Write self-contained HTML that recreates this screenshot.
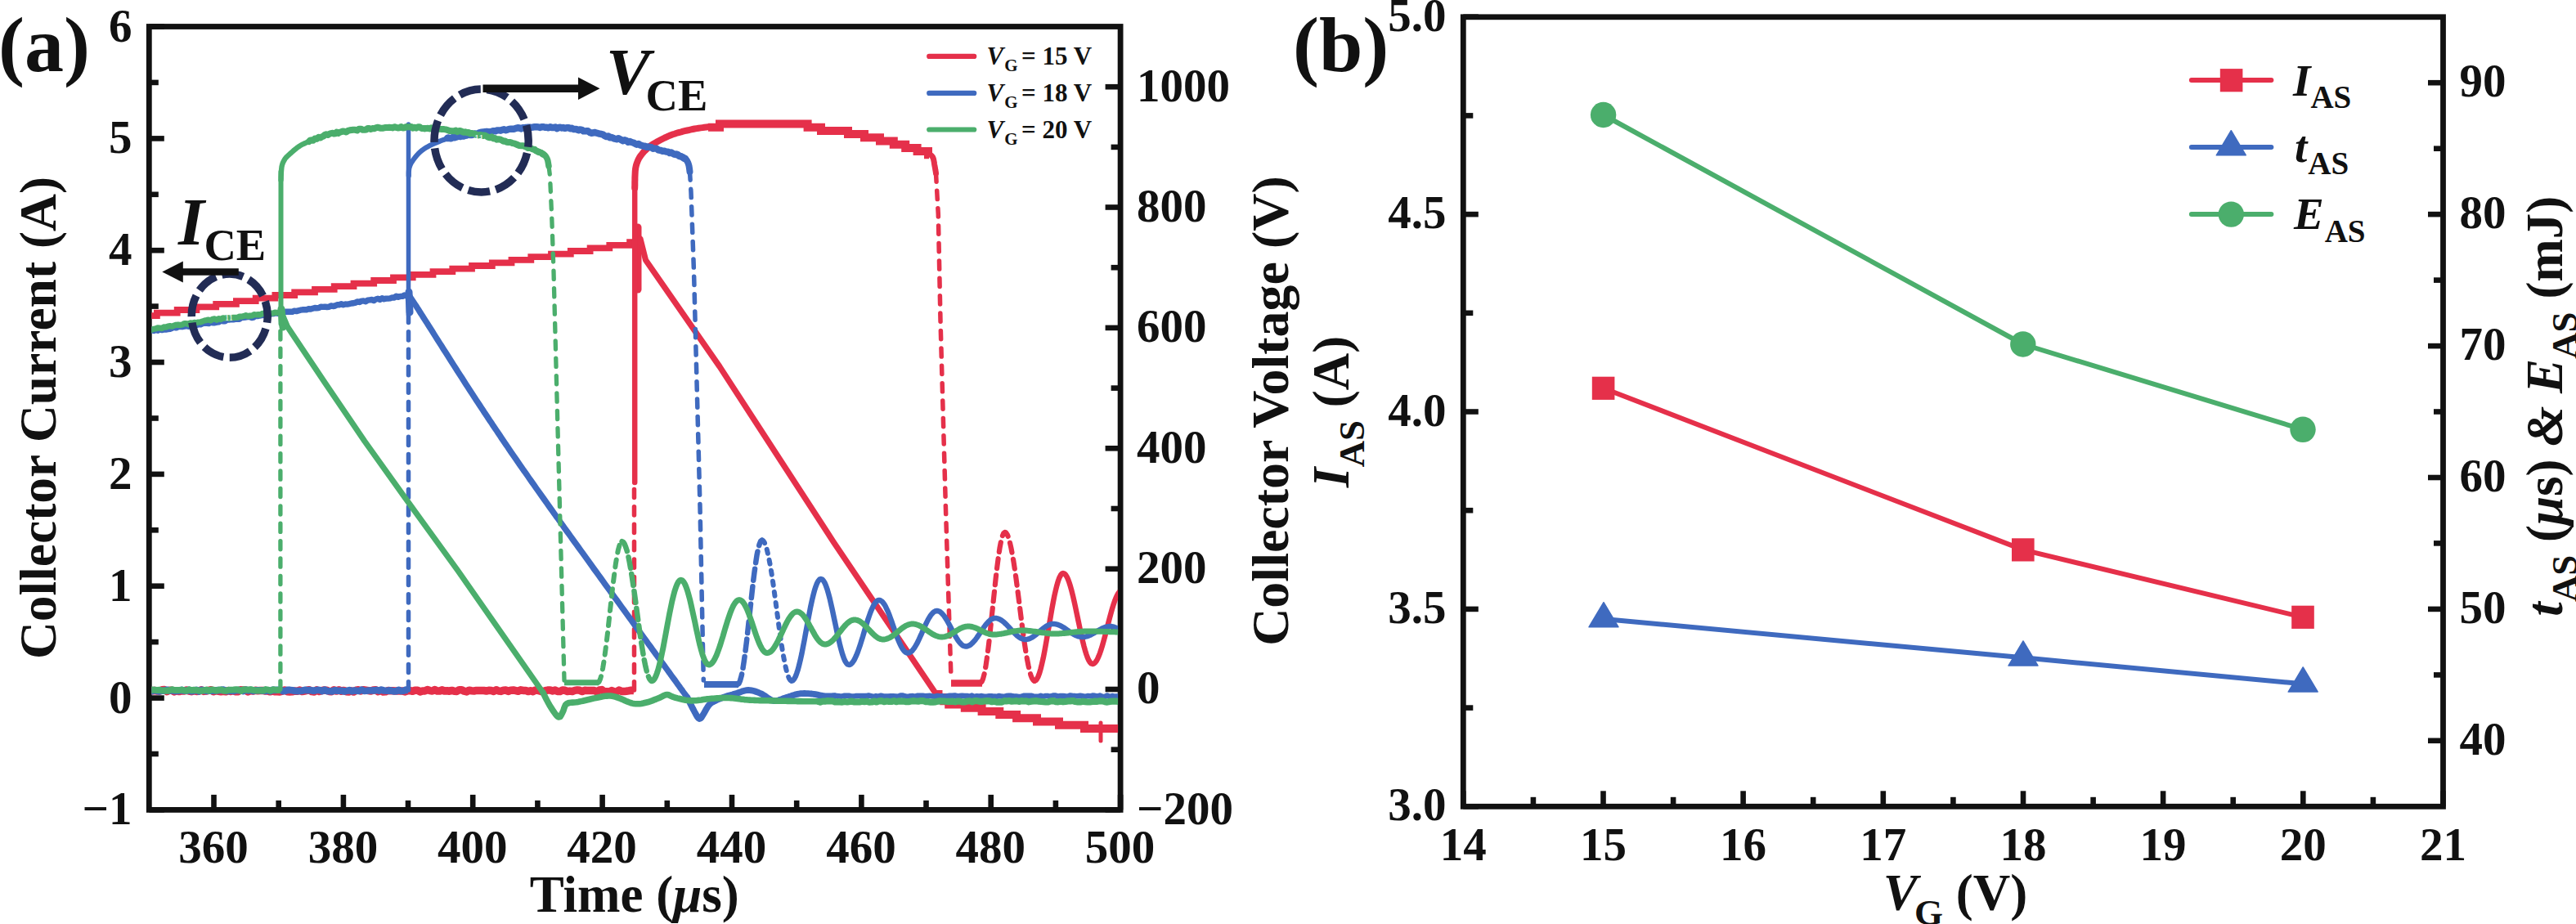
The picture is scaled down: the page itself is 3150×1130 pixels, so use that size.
<!DOCTYPE html>
<html><head><meta charset="utf-8"><title>Figure</title>
<style>
html,body{margin:0;padding:0;background:#fff;}
body{width:3150px;height:1130px;overflow:hidden;}
svg{display:block;}
text{font-family:"Liberation Serif",serif;font-weight:bold;fill:#111;}
</style></head><body>
<svg width="3150" height="1130" viewBox="0 0 3150 1130">
<rect width="3150" height="1130" fill="#ffffff"/>
<rect x="182.3" y="32.5" width="1187.8" height="957.9" fill="none" stroke="#111111" stroke-width="6.8"/>
<line x1="182.3" y1="990.4" x2="200.8" y2="990.4" stroke="#111111" stroke-width="6.6" stroke-linecap="butt"/>
<text x="161.5" y="1008.4" font-size="57" text-anchor="end" >−1</text>
<line x1="182.3" y1="853.6" x2="200.8" y2="853.6" stroke="#111111" stroke-width="6.6" stroke-linecap="butt"/>
<text x="161.5" y="871.6" font-size="57" text-anchor="end" >0</text>
<line x1="182.3" y1="716.7" x2="200.8" y2="716.7" stroke="#111111" stroke-width="6.6" stroke-linecap="butt"/>
<text x="161.5" y="734.7" font-size="57" text-anchor="end" >1</text>
<line x1="182.3" y1="579.9" x2="200.8" y2="579.9" stroke="#111111" stroke-width="6.6" stroke-linecap="butt"/>
<text x="161.5" y="597.9" font-size="57" text-anchor="end" >2</text>
<line x1="182.3" y1="443.0" x2="200.8" y2="443.0" stroke="#111111" stroke-width="6.6" stroke-linecap="butt"/>
<text x="161.5" y="461.0" font-size="57" text-anchor="end" >3</text>
<line x1="182.3" y1="306.2" x2="200.8" y2="306.2" stroke="#111111" stroke-width="6.6" stroke-linecap="butt"/>
<text x="161.5" y="324.2" font-size="57" text-anchor="end" >4</text>
<line x1="182.3" y1="169.4" x2="200.8" y2="169.4" stroke="#111111" stroke-width="6.6" stroke-linecap="butt"/>
<text x="161.5" y="187.4" font-size="57" text-anchor="end" >5</text>
<line x1="182.3" y1="32.5" x2="200.8" y2="32.5" stroke="#111111" stroke-width="6.6" stroke-linecap="butt"/>
<text x="161.5" y="50.5" font-size="57" text-anchor="end" >6</text>
<line x1="182.3" y1="922.0" x2="193.8" y2="922.0" stroke="#111111" stroke-width="6.6" stroke-linecap="butt"/>
<line x1="182.3" y1="785.1" x2="193.8" y2="785.1" stroke="#111111" stroke-width="6.6" stroke-linecap="butt"/>
<line x1="182.3" y1="648.3" x2="193.8" y2="648.3" stroke="#111111" stroke-width="6.6" stroke-linecap="butt"/>
<line x1="182.3" y1="511.5" x2="193.8" y2="511.5" stroke="#111111" stroke-width="6.6" stroke-linecap="butt"/>
<line x1="182.3" y1="374.6" x2="193.8" y2="374.6" stroke="#111111" stroke-width="6.6" stroke-linecap="butt"/>
<line x1="182.3" y1="237.8" x2="193.8" y2="237.8" stroke="#111111" stroke-width="6.6" stroke-linecap="butt"/>
<line x1="182.3" y1="100.9" x2="193.8" y2="100.9" stroke="#111111" stroke-width="6.6" stroke-linecap="butt"/>
<line x1="261.5" y1="990.4" x2="261.5" y2="971.9" stroke="#111111" stroke-width="6.6" stroke-linecap="butt"/>
<text x="261.0" y="1055.0" font-size="57" text-anchor="middle" >360</text>
<line x1="419.9" y1="990.4" x2="419.9" y2="971.9" stroke="#111111" stroke-width="6.6" stroke-linecap="butt"/>
<text x="419.4" y="1055.0" font-size="57" text-anchor="middle" >380</text>
<line x1="578.2" y1="990.4" x2="578.2" y2="971.9" stroke="#111111" stroke-width="6.6" stroke-linecap="butt"/>
<text x="577.7" y="1055.0" font-size="57" text-anchor="middle" >400</text>
<line x1="736.6" y1="990.4" x2="736.6" y2="971.9" stroke="#111111" stroke-width="6.6" stroke-linecap="butt"/>
<text x="736.1" y="1055.0" font-size="57" text-anchor="middle" >420</text>
<line x1="895.0" y1="990.4" x2="895.0" y2="971.9" stroke="#111111" stroke-width="6.6" stroke-linecap="butt"/>
<text x="894.5" y="1055.0" font-size="57" text-anchor="middle" >440</text>
<line x1="1053.4" y1="990.4" x2="1053.4" y2="971.9" stroke="#111111" stroke-width="6.6" stroke-linecap="butt"/>
<text x="1052.9" y="1055.0" font-size="57" text-anchor="middle" >460</text>
<line x1="1211.7" y1="990.4" x2="1211.7" y2="971.9" stroke="#111111" stroke-width="6.6" stroke-linecap="butt"/>
<text x="1211.2" y="1055.0" font-size="57" text-anchor="middle" >480</text>
<line x1="1370.1" y1="990.4" x2="1370.1" y2="971.9" stroke="#111111" stroke-width="6.6" stroke-linecap="butt"/>
<text x="1369.6" y="1055.0" font-size="57" text-anchor="middle" >500</text>
<line x1="340.7" y1="990.4" x2="340.7" y2="978.9" stroke="#111111" stroke-width="6.6" stroke-linecap="butt"/>
<line x1="499.0" y1="990.4" x2="499.0" y2="978.9" stroke="#111111" stroke-width="6.6" stroke-linecap="butt"/>
<line x1="657.4" y1="990.4" x2="657.4" y2="978.9" stroke="#111111" stroke-width="6.6" stroke-linecap="butt"/>
<line x1="815.8" y1="990.4" x2="815.8" y2="978.9" stroke="#111111" stroke-width="6.6" stroke-linecap="butt"/>
<line x1="974.2" y1="990.4" x2="974.2" y2="978.9" stroke="#111111" stroke-width="6.6" stroke-linecap="butt"/>
<line x1="1132.5" y1="990.4" x2="1132.5" y2="978.9" stroke="#111111" stroke-width="6.6" stroke-linecap="butt"/>
<line x1="1290.9" y1="990.4" x2="1290.9" y2="978.9" stroke="#111111" stroke-width="6.6" stroke-linecap="butt"/>
<line x1="1370.1" y1="990.4" x2="1351.6" y2="990.4" stroke="#111111" stroke-width="6.6" stroke-linecap="butt"/>
<text x="1390.0" y="1007.7" font-size="57" text-anchor="start" >−200</text>
<line x1="1370.1" y1="843.0" x2="1351.6" y2="843.0" stroke="#111111" stroke-width="6.6" stroke-linecap="butt"/>
<text x="1390.0" y="860.3" font-size="57" text-anchor="start" >0</text>
<line x1="1370.1" y1="695.7" x2="1351.6" y2="695.7" stroke="#111111" stroke-width="6.6" stroke-linecap="butt"/>
<text x="1390.0" y="713.0" font-size="57" text-anchor="start" >200</text>
<line x1="1370.1" y1="548.3" x2="1351.6" y2="548.3" stroke="#111111" stroke-width="6.6" stroke-linecap="butt"/>
<text x="1390.0" y="565.6" font-size="57" text-anchor="start" >400</text>
<line x1="1370.1" y1="400.9" x2="1351.6" y2="400.9" stroke="#111111" stroke-width="6.6" stroke-linecap="butt"/>
<text x="1390.0" y="418.2" font-size="57" text-anchor="start" >600</text>
<line x1="1370.1" y1="253.5" x2="1351.6" y2="253.5" stroke="#111111" stroke-width="6.6" stroke-linecap="butt"/>
<text x="1390.0" y="270.8" font-size="57" text-anchor="start" >800</text>
<line x1="1370.1" y1="106.2" x2="1351.6" y2="106.2" stroke="#111111" stroke-width="6.6" stroke-linecap="butt"/>
<text x="1390.0" y="123.5" font-size="57" text-anchor="start" >1000</text>
<line x1="1370.1" y1="916.7" x2="1358.6" y2="916.7" stroke="#111111" stroke-width="6.6" stroke-linecap="butt"/>
<line x1="1370.1" y1="769.3" x2="1358.6" y2="769.3" stroke="#111111" stroke-width="6.6" stroke-linecap="butt"/>
<line x1="1370.1" y1="622.0" x2="1358.6" y2="622.0" stroke="#111111" stroke-width="6.6" stroke-linecap="butt"/>
<line x1="1370.1" y1="474.6" x2="1358.6" y2="474.6" stroke="#111111" stroke-width="6.6" stroke-linecap="butt"/>
<line x1="1370.1" y1="327.2" x2="1358.6" y2="327.2" stroke="#111111" stroke-width="6.6" stroke-linecap="butt"/>
<line x1="1370.1" y1="179.9" x2="1358.6" y2="179.9" stroke="#111111" stroke-width="6.6" stroke-linecap="butt"/>
<rect x="1789.3" y="20.8" width="1198.2" height="965.5" fill="none" stroke="#111111" stroke-width="6.8"/>
<line x1="1789.3" y1="986.3" x2="1807.8" y2="986.3" stroke="#111111" stroke-width="6.6" stroke-linecap="butt"/>
<text x="1768.5" y="1003.3" font-size="57" text-anchor="end" >3.0</text>
<line x1="1789.3" y1="744.9" x2="1807.8" y2="744.9" stroke="#111111" stroke-width="6.6" stroke-linecap="butt"/>
<text x="1768.5" y="761.9" font-size="57" text-anchor="end" >3.5</text>
<line x1="1789.3" y1="503.5" x2="1807.8" y2="503.5" stroke="#111111" stroke-width="6.6" stroke-linecap="butt"/>
<text x="1768.5" y="520.5" font-size="57" text-anchor="end" >4.0</text>
<line x1="1789.3" y1="262.1" x2="1807.8" y2="262.1" stroke="#111111" stroke-width="6.6" stroke-linecap="butt"/>
<text x="1768.5" y="279.1" font-size="57" text-anchor="end" >4.5</text>
<line x1="1789.3" y1="20.7" x2="1807.8" y2="20.7" stroke="#111111" stroke-width="6.6" stroke-linecap="butt"/>
<text x="1768.5" y="37.7" font-size="57" text-anchor="end" >5.0</text>
<line x1="1789.3" y1="865.6" x2="1801.3" y2="865.6" stroke="#111111" stroke-width="6.6" stroke-linecap="butt"/>
<line x1="1789.3" y1="624.2" x2="1801.3" y2="624.2" stroke="#111111" stroke-width="6.6" stroke-linecap="butt"/>
<line x1="1789.3" y1="382.8" x2="1801.3" y2="382.8" stroke="#111111" stroke-width="6.6" stroke-linecap="butt"/>
<line x1="1789.3" y1="141.4" x2="1801.3" y2="141.4" stroke="#111111" stroke-width="6.6" stroke-linecap="butt"/>
<line x1="1789.3" y1="986.3" x2="1789.3" y2="967.3" stroke="#111111" stroke-width="6.6" stroke-linecap="butt"/>
<text x="1789.3" y="1052.0" font-size="57" text-anchor="middle" >14</text>
<line x1="1960.5" y1="986.3" x2="1960.5" y2="967.3" stroke="#111111" stroke-width="6.6" stroke-linecap="butt"/>
<text x="1960.5" y="1052.0" font-size="57" text-anchor="middle" >15</text>
<line x1="2131.6" y1="986.3" x2="2131.6" y2="967.3" stroke="#111111" stroke-width="6.6" stroke-linecap="butt"/>
<text x="2131.6" y="1052.0" font-size="57" text-anchor="middle" >16</text>
<line x1="2302.8" y1="986.3" x2="2302.8" y2="967.3" stroke="#111111" stroke-width="6.6" stroke-linecap="butt"/>
<text x="2302.8" y="1052.0" font-size="57" text-anchor="middle" >17</text>
<line x1="2474.0" y1="986.3" x2="2474.0" y2="967.3" stroke="#111111" stroke-width="6.6" stroke-linecap="butt"/>
<text x="2474.0" y="1052.0" font-size="57" text-anchor="middle" >18</text>
<line x1="2645.1" y1="986.3" x2="2645.1" y2="967.3" stroke="#111111" stroke-width="6.6" stroke-linecap="butt"/>
<text x="2645.1" y="1052.0" font-size="57" text-anchor="middle" >19</text>
<line x1="2816.3" y1="986.3" x2="2816.3" y2="967.3" stroke="#111111" stroke-width="6.6" stroke-linecap="butt"/>
<text x="2816.3" y="1052.0" font-size="57" text-anchor="middle" >20</text>
<line x1="2987.5" y1="986.3" x2="2987.5" y2="967.3" stroke="#111111" stroke-width="6.6" stroke-linecap="butt"/>
<text x="2987.5" y="1052.0" font-size="57" text-anchor="middle" >21</text>
<line x1="1874.9" y1="986.3" x2="1874.9" y2="974.8" stroke="#111111" stroke-width="6.6" stroke-linecap="butt"/>
<line x1="2046.1" y1="986.3" x2="2046.1" y2="974.8" stroke="#111111" stroke-width="6.6" stroke-linecap="butt"/>
<line x1="2217.2" y1="986.3" x2="2217.2" y2="974.8" stroke="#111111" stroke-width="6.6" stroke-linecap="butt"/>
<line x1="2388.4" y1="986.3" x2="2388.4" y2="974.8" stroke="#111111" stroke-width="6.6" stroke-linecap="butt"/>
<line x1="2559.6" y1="986.3" x2="2559.6" y2="974.8" stroke="#111111" stroke-width="6.6" stroke-linecap="butt"/>
<line x1="2730.7" y1="986.3" x2="2730.7" y2="974.8" stroke="#111111" stroke-width="6.6" stroke-linecap="butt"/>
<line x1="2901.9" y1="986.3" x2="2901.9" y2="974.8" stroke="#111111" stroke-width="6.6" stroke-linecap="butt"/>
<line x1="2987.5" y1="905.8" x2="2969.0" y2="905.8" stroke="#111111" stroke-width="6.6" stroke-linecap="butt"/>
<text x="3007.5" y="922.6" font-size="57" text-anchor="start" >40</text>
<line x1="2987.5" y1="744.9" x2="2969.0" y2="744.9" stroke="#111111" stroke-width="6.6" stroke-linecap="butt"/>
<text x="3007.5" y="761.7" font-size="57" text-anchor="start" >50</text>
<line x1="2987.5" y1="584.0" x2="2969.0" y2="584.0" stroke="#111111" stroke-width="6.6" stroke-linecap="butt"/>
<text x="3007.5" y="600.8" font-size="57" text-anchor="start" >60</text>
<line x1="2987.5" y1="423.1" x2="2969.0" y2="423.1" stroke="#111111" stroke-width="6.6" stroke-linecap="butt"/>
<text x="3007.5" y="439.9" font-size="57" text-anchor="start" >70</text>
<line x1="2987.5" y1="262.1" x2="2969.0" y2="262.1" stroke="#111111" stroke-width="6.6" stroke-linecap="butt"/>
<text x="3007.5" y="278.9" font-size="57" text-anchor="start" >80</text>
<line x1="2987.5" y1="101.2" x2="2969.0" y2="101.2" stroke="#111111" stroke-width="6.6" stroke-linecap="butt"/>
<text x="3007.5" y="118.0" font-size="57" text-anchor="start" >90</text>
<line x1="2987.5" y1="825.4" x2="2976.0" y2="825.4" stroke="#111111" stroke-width="6.6" stroke-linecap="butt"/>
<line x1="2987.5" y1="664.4" x2="2976.0" y2="664.4" stroke="#111111" stroke-width="6.6" stroke-linecap="butt"/>
<line x1="2987.5" y1="503.5" x2="2976.0" y2="503.5" stroke="#111111" stroke-width="6.6" stroke-linecap="butt"/>
<line x1="2987.5" y1="342.6" x2="2976.0" y2="342.6" stroke="#111111" stroke-width="6.6" stroke-linecap="butt"/>
<line x1="2987.5" y1="181.7" x2="2976.0" y2="181.7" stroke="#111111" stroke-width="6.6" stroke-linecap="butt"/>
<clipPath id="clipA"><rect x="185.3" y="35.5" width="1181.8" height="951.9"/></clipPath>
<g clip-path="url(#clipA)">
<polyline points="183.0,386.2 191.9,386.2 191.9,382.6 216.7,382.6 216.7,379.0 240.4,379.0 240.4,375.4 264.2,375.4 264.2,371.8 288.9,371.8 288.9,368.2 312.7,368.2 312.7,364.6 336.4,364.6 336.4,361.0 360.2,361.0 360.2,357.4 385.0,357.4 385.0,353.8 408.7,353.8 408.7,350.2 432.5,350.2 432.5,346.6 457.2,346.6 457.2,343.0 481.0,343.0 481.0,339.4 504.7,339.4 504.7,335.8 529.5,335.8 529.5,332.2 553.3,332.2 553.3,328.6 577.0,328.6 577.0,325.0 601.8,325.0 601.8,321.4 625.5,321.4 625.5,317.8 649.3,317.8 649.3,314.2 674.0,314.2 674.0,310.6 697.8,310.6 697.8,307.0 721.6,307.0 721.6,303.4 745.3,303.4 745.3,299.8 770.1,299.8 770.1,296.2 776.0,296.2" fill="none" stroke="#E5304A" stroke-width="7.8" stroke-linecap="butt" stroke-linejoin="miter" />
<polyline points="780.0,278.0 780.0,354.0" fill="none" stroke="#E5304A" stroke-width="9" stroke-linecap="round" stroke-linejoin="round" />
<polyline points="776.0,297.0 783.0,292.0 789.5,318.0 880.0,448.4 1019.6,663.4 1145.2,849.5" fill="none" stroke="#E5304A" stroke-width="7.2" stroke-linecap="round" stroke-linejoin="round" />
<polyline points="1145.0,848.9 1147.5,848.9 1147.5,853.1 1154.3,853.1 1154.3,857.3 1160.2,857.3 1160.2,861.5 1179.8,861.5 1179.8,865.7 1200.6,865.7 1200.6,869.9 1222.3,869.9 1222.3,874.1 1243.1,874.1 1243.1,878.3 1268.0,878.3 1268.0,882.5 1295.0,882.5 1295.0,886.7 1326.0,886.7 1326.0,890.9 1372.0,890.9" fill="none" stroke="#E5304A" stroke-width="10" stroke-linecap="butt" stroke-linejoin="miter" />
<polyline points="1346.0,884.0 1346.0,906.0" fill="none" stroke="#E5304A" stroke-width="5" stroke-linecap="round" stroke-linejoin="round" />
<polyline points="183.0,844.2 186.0,844.9 189.0,844.5 192.0,845.0 195.0,845.1 198.0,843.8 201.0,843.6 204.0,845.6 207.0,844.2 210.0,844.2 213.1,846.0 216.1,844.7 219.1,845.6 222.1,844.7 225.1,845.1 228.1,844.0 231.1,845.1 234.1,845.7 237.1,844.9 240.1,845.4 243.1,845.2 246.1,843.8 249.1,845.4 252.1,845.0 255.1,844.3 258.1,843.7 261.1,845.7 264.1,844.7 267.1,845.3 270.1,845.7 273.2,845.3 276.2,845.8 279.2,844.5 282.2,845.5 285.2,844.7 288.2,845.8 291.2,845.7 294.2,843.8 297.2,843.9 300.2,844.1 303.2,845.9 306.2,844.6 309.2,845.1 312.2,844.3 315.2,844.8 318.2,844.5 321.2,844.4 324.2,845.0 327.2,845.0 330.2,845.8 333.3,845.2 336.3,845.8 339.3,845.7 342.3,846.0 345.3,845.2 348.3,844.0 351.3,845.7 354.3,845.9 357.3,845.8 360.3,845.0 363.3,845.3 366.3,844.1 369.3,845.6 372.3,845.0 375.3,844.3 378.3,843.8 381.3,845.6 384.3,846.0 387.3,843.8 390.4,845.5 393.4,844.6 396.4,844.0 399.4,844.3 402.4,845.4 405.4,845.7 408.4,843.7 411.4,845.1 414.4,843.7 417.4,845.3 420.4,844.4 423.4,845.7 426.4,846.0 429.4,844.8 432.4,846.0 435.4,844.3 438.4,843.8 441.4,845.0 444.4,843.7 447.4,844.1 450.5,844.6 453.5,845.1 456.5,844.0 459.5,843.7 462.5,845.7 465.5,844.4 468.5,845.9 471.5,845.8 474.5,844.5 477.5,844.7 480.5,844.8 483.5,845.1 486.5,845.0 489.5,844.9 492.5,845.1 495.5,845.9 498.5,844.8 501.5,844.6 504.5,845.3 507.5,844.2 510.6,844.3 513.6,845.9 516.6,844.9 519.6,844.9 522.6,843.6 525.6,844.6 528.6,845.0 531.6,843.6 534.6,845.1 537.6,845.1 540.6,843.7 543.6,845.1 546.6,844.7 549.6,845.2 552.6,844.4 555.6,845.3 558.6,845.4 561.6,843.7 564.6,843.7 567.6,845.2 570.7,845.9 573.7,844.2 576.7,844.7 579.7,845.0 582.7,844.4 585.7,844.5 588.7,844.4 591.7,844.5 594.7,845.0 597.7,844.3 600.7,844.5 603.7,845.5 606.7,843.7 609.7,845.0 612.7,845.4 615.7,844.3 618.7,844.1 621.7,845.5 624.7,844.2 627.8,844.0 630.8,844.6 633.8,845.3 636.8,843.8 639.8,844.4 642.8,844.4 645.8,845.6 648.8,844.7 651.8,845.7 654.8,844.0 657.8,844.4 660.8,845.2 663.8,845.7 666.8,844.7 669.8,844.1 672.8,843.9 675.8,844.9 678.8,844.1 681.8,845.5 684.8,845.6 687.9,844.0 690.9,844.3 693.9,845.5 696.9,845.1 699.9,845.5 702.9,844.4 705.9,843.9 708.9,844.3 711.9,845.5 714.9,844.3 717.9,844.4 720.9,844.6 723.9,844.6 726.9,844.6 729.9,845.8 732.9,844.0 735.9,843.6 738.9,845.9 741.9,845.7 744.9,846.0 748.0,844.6 751.0,845.9 754.0,845.8 757.0,844.1 760.0,845.4 763.0,845.6 766.0,845.2 769.0,844.8 772.0,844.3 775.0,844.4" fill="none" stroke="#E5304A" stroke-width="9.5" stroke-linecap="butt" stroke-linejoin="round" />
<polyline points="775.5,844.0 775.5,588.0" fill="none" stroke="#E5304A" stroke-width="5.5" stroke-linecap="round" stroke-linejoin="round" stroke-dasharray="10.2 11.2" />
<polyline points="776.2,590.0 776.2,215.0" fill="none" stroke="#E5304A" stroke-width="6.5" stroke-linecap="round" stroke-linejoin="round" />
<polyline points="776.2,230.0 776.2,228.7 776.3,227.0 776.3,224.9 776.3,222.6 776.4,220.1 776.4,217.6 776.5,215.2 776.6,212.8 776.7,210.7 776.8,209.0 777.1,206.3 777.5,204.1 777.9,202.3 778.4,200.7 779.0,199.0 779.8,196.9 780.7,194.9 781.7,193.0 783.0,191.0 784.2,189.4 785.5,187.8 786.9,186.1 788.4,184.5 790.0,183.0 791.5,181.6 792.8,180.3 794.4,179.0 796.3,177.6 799.0,176.0 800.4,175.2 801.9,174.4 803.5,173.4 805.2,172.5 807.0,171.5 808.9,170.5 810.9,169.5 812.9,168.5 814.9,167.6 817.0,166.6 819.0,165.8 821.0,165.0 822.9,164.3 824.8,163.7 826.8,163.0 828.9,162.4 830.9,161.8 833.0,161.3 835.1,160.7 837.2,160.2 839.2,159.7 841.3,159.3 843.2,158.8 845.2,158.4 847.0,158.0 849.4,157.5 851.9,157.1 854.3,156.7 856.8,156.4 859.1,156.1 861.4,155.8 863.4,155.6 865.2,155.3 866.8,155.2 868.0,155.0" fill="none" stroke="#E5304A" stroke-width="8" stroke-linecap="round" stroke-linejoin="round" />
<polyline points="866.0,155.7 880.0,155.7 880.0,151.5 987.6,151.5 987.6,155.7 1004.0,155.7 1004.0,159.9 1037.0,159.9 1037.0,164.1 1057.0,164.1 1057.0,168.3 1076.0,168.3 1076.0,172.5 1092.8,172.5 1092.8,176.7 1107.2,176.7 1107.2,180.9 1121.6,180.9 1121.6,185.1 1135.0,185.1 1135.0,189.3 1136.0,189.3" fill="none" stroke="#E5304A" stroke-width="10" stroke-linecap="butt" stroke-linejoin="miter" />
<polyline points="1134.0,187.0 1135.3,187.8 1137.1,188.8 1139.0,190.2 1140.5,192.0 1141.3,193.8 1141.8,196.1 1142.3,198.5 1142.6,200.8 1143.0,203.0 1143.5,205.6 1143.9,208.2 1144.3,210.4 1144.5,212.0" fill="none" stroke="#E5304A" stroke-width="7" stroke-linecap="round" stroke-linejoin="round" />
<polyline points="1144.5,212.0 1147.3,262.0 1150.0,392.0 1156.4,620.0 1163.0,830.0" fill="none" stroke="#E5304A" stroke-width="5.5" stroke-linecap="round" stroke-linejoin="round" stroke-dasharray="10.2 11.2" />
<polyline points="1163.0,835.5 1201.0,835.5" fill="none" stroke="#E5304A" stroke-width="8.6" stroke-linecap="butt" stroke-linejoin="round" />
<polyline points="1199.0,835.0 1200.6,833.7 1202.1,830.0 1203.7,823.9 1205.3,815.6 1206.8,805.3 1208.4,793.3 1210.0,779.9 1211.5,765.5 1213.1,750.5 1214.7,735.3 1216.3,720.3 1217.8,705.9 1219.4,692.5 1221.0,680.5 1222.5,670.2 1224.1,661.9 1225.7,655.8 1227.2,652.1 1228.8,650.8 1230.3,651.6 1231.8,653.9 1233.3,657.7 1234.8,663.0 1236.3,669.6 1237.8,677.4 1239.4,686.4 1240.9,696.3 1242.4,706.9 1243.9,718.2 1245.4,729.9 1246.9,741.8 1248.4,753.6 1249.9,765.3 1251.4,776.6 1252.9,787.2 1254.4,797.1 1256.0,806.1 1257.5,813.9 1259.0,820.5 1260.5,825.8 1262.0,829.6 1263.5,831.9 1265.0,832.7" fill="none" stroke="#E5304A" stroke-width="6.2" stroke-linecap="round" stroke-linejoin="round" stroke-dasharray="12 8.3" />
<polyline points="1265.0,832.7 1266.5,832.1 1268.0,830.3 1269.6,827.2 1271.1,823.1 1272.6,817.9 1274.1,811.8 1275.7,804.8 1277.2,797.1 1278.7,788.9 1280.2,780.2 1281.7,771.3 1283.3,762.4 1284.8,753.5 1286.3,744.8 1287.8,736.6 1289.3,728.9 1290.9,721.9 1292.4,715.8 1293.9,710.6 1295.4,706.5 1297.0,703.4 1298.5,701.6 1300.0,701.0 1301.5,701.5 1303.0,702.9 1304.5,705.2 1306.0,708.4 1307.5,712.5 1309.0,717.3 1310.5,722.7 1312.0,728.8 1313.5,735.3 1315.0,742.1 1316.5,749.3 1318.0,756.5 1319.5,763.7 1321.0,770.9 1322.5,777.7 1324.0,784.2 1325.5,790.3 1327.0,795.7 1328.5,800.5 1330.0,804.6 1331.5,807.8 1333.0,810.1 1334.5,811.5 1336.0,812.0 1337.5,811.6 1339.0,810.5 1340.5,808.6 1342.0,806.0 1343.5,802.7 1345.0,798.8 1346.5,794.4 1348.0,789.5 1349.5,784.2 1351.0,778.6 1352.5,772.9 1354.0,767.0 1355.5,761.1 1357.0,755.4 1358.5,749.8 1360.0,744.5 1361.5,739.6 1363.0,735.2 1364.5,731.3 1366.0,728.0 1367.5,725.4 1369.0,723.5 1370.5,722.4 1372.0,722.0" fill="none" stroke="#E5304A" stroke-width="6.5" stroke-linecap="round" stroke-linejoin="round" />
<polyline points="183.0,404.5 185.5,403.9 188.0,404.5 190.5,403.6 193.0,404.2 195.5,402.4 198.0,403.6 200.4,402.9 202.9,403.0 205.4,402.6 207.9,402.3 210.4,401.3 212.9,400.0 215.4,400.9 217.9,399.6 220.4,399.4 222.9,399.7 225.4,399.2 227.9,398.6 230.4,399.2 232.8,398.3 235.3,397.4 237.8,396.9 240.3,397.7 242.8,396.6 245.3,396.8 247.8,395.7 250.3,395.1 252.8,395.4 255.3,395.5 257.8,394.0 260.3,394.8 262.7,394.7 265.2,394.1 267.7,393.8 270.2,392.0 272.7,392.8 275.2,392.8 277.7,391.0 280.2,391.1 282.7,390.7 285.2,390.8 287.7,390.3 290.2,390.1 292.7,390.3 295.1,388.5 297.6,388.3 300.1,388.0 302.6,387.7 305.1,387.2 307.6,388.5 310.1,388.0 312.6,386.2 315.1,386.6 317.6,386.0 320.1,385.6 322.6,385.3 325.1,385.5 327.5,385.1 330.0,384.3 332.5,383.7 335.0,383.6 337.5,382.8 340.0,383.3 342.5,383.2 345.0,382.3 347.5,381.4 350.0,381.2 352.5,381.2 355.0,381.3 357.4,381.3 359.9,380.2 362.4,380.6 364.9,379.9 367.4,379.2 369.9,378.8 372.4,378.7 374.9,378.7 377.4,377.8 379.9,378.0 382.4,377.2 384.9,376.5 387.4,376.7 389.8,376.6 392.3,375.1 394.8,375.4 397.3,375.1 399.8,375.5 402.3,375.3 404.8,373.9 407.3,374.5 409.8,374.0 412.3,372.7 414.8,372.7 417.3,371.8 419.8,372.7 422.2,372.0 424.7,372.1 427.2,371.6 429.7,371.0 432.2,370.8 434.7,370.1 437.2,368.9 439.7,369.5 442.2,368.1 444.7,368.0 447.2,368.8 449.7,367.1 452.1,366.8 454.6,366.5 457.1,367.6 459.6,366.0 462.1,365.3 464.6,366.5 467.1,364.8 469.6,365.8 472.1,365.1 474.6,365.1 477.1,364.9 479.6,363.9 482.1,364.0 484.5,362.2 487.0,363.2 489.5,362.4 492.0,362.4 494.5,361.0 497.0,361.8 499.5,361.8" fill="none" stroke="#3F6ABF" stroke-width="7.4" stroke-linecap="round" stroke-linejoin="round" />
<polyline points="500.0,357.0 501.0,382.0" fill="none" stroke="#3F6ABF" stroke-width="9" stroke-linecap="round" stroke-linejoin="round" />
<polyline points="500.0,362.0 499.3,360.4 499.4,360.0 507.7,372.5 509.0,374.4 510.3,376.5 511.8,378.8 513.3,381.2 514.9,383.8 516.7,386.5 518.4,389.3 520.3,392.2 522.3,395.3 524.3,398.5 526.4,401.8 528.5,405.1 530.7,408.6 532.9,412.1 535.2,415.7 537.5,419.4 539.9,423.1 542.3,426.9 544.8,430.8 547.2,434.6 549.7,438.5 552.2,442.4 554.7,446.4 557.2,450.3 559.7,454.3 562.3,458.2 564.8,462.1 567.3,466.0 569.8,469.9 572.3,473.7 574.7,477.5 577.2,481.3 579.6,485.0 581.9,488.6 584.3,492.1 586.6,495.6 588.8,499.0 591.1,502.4 593.2,505.7 595.4,508.9 597.5,512.1 599.5,515.2 601.6,518.2 603.5,521.2 605.5,524.1 607.5,527.0 609.4,529.9 611.3,532.7 613.2,535.6 615.1,538.4 617.1,541.3 619.0,544.1 621.0,547.0 622.9,549.9 624.9,552.8 627.0,555.8 629.1,558.8 631.2,561.9 633.4,565.1 635.6,568.3 637.9,571.6 640.2,575.0 642.7,578.4 645.2,582.0 647.7,585.7 650.4,589.5 653.2,593.4 656.0,597.5 659.0,601.7 662.1,606.0 665.3,610.5 668.6,615.2 672.0,620.0 673.8,622.5 675.7,625.2 677.6,627.9 679.6,630.7 681.7,633.5 683.8,636.5 685.9,639.5 688.2,642.6 690.4,645.8 692.7,649.0 695.1,652.3 697.5,655.6 699.9,659.0 702.4,662.5 705.0,666.0 707.5,669.5 710.1,673.1 712.7,676.7 715.4,680.4 718.1,684.1 720.8,687.9 723.5,691.7 726.2,695.5 729.0,699.3 731.8,703.1 734.6,707.0 737.4,710.9 740.2,714.8 743.0,718.7 745.9,722.6 748.7,726.5 751.5,730.4 754.4,734.3 757.2,738.2 760.0,742.1 762.9,746.0 765.7,749.9 768.5,753.7 771.3,757.6 774.0,761.4 776.8,765.2 779.5,769.0 782.2,772.7 784.9,776.4 787.6,780.1 790.2,783.7 792.8,787.3 795.4,790.8 797.9,794.3 800.4,797.7 802.8,801.1 805.3,804.4 807.6,807.7 810.0,810.9 812.2,814.0 814.5,817.1 816.7,820.1 818.8,823.0 820.8,825.9 822.9,828.7 824.8,831.3 826.7,833.9 828.5,836.5 830.3,838.9 831.9,841.2 833.6,843.4 835.1,845.6 836.6,847.6 838.0,849.5 839.3,851.3 840.5,853.0" fill="none" stroke="#3F6ABF" stroke-width="7.4" stroke-linecap="round" stroke-linejoin="round" />
<polyline points="840.5,853.0 841.1,854.2 841.9,855.8 842.8,857.7 843.8,859.8 844.9,862.0 846.0,864.2 847.0,866.2 848.0,868.0 849.2,870.3 850.5,872.6 851.7,874.9 852.9,876.8 854.1,878.3 855.2,879.0 856.7,878.6 858.1,876.9 859.5,874.5 861.0,872.0 862.0,870.3 863.0,868.4 864.1,866.4 865.3,864.4 866.7,862.4 868.4,860.7 870.0,859.5 871.7,858.5 873.7,857.4 875.7,856.4 877.8,855.5 879.9,854.6 882.0,853.8 884.0,853.0 885.9,852.3 887.9,851.6 889.8,851.0 891.8,850.4 893.7,849.9 895.6,849.4 897.6,848.8 899.5,848.3 901.4,847.7 903.4,847.0 905.3,846.3 907.2,845.6 909.2,845.0 911.1,844.5 913.1,844.1 915.0,844.0 916.9,844.1 918.9,844.4 920.9,844.8 922.8,845.3 924.8,846.0 926.7,846.7 928.7,847.5 930.6,848.3 932.5,849.3 934.5,850.5 936.4,851.8 938.3,853.2 940.2,854.5 942.1,855.6 944.1,856.5 946.0,857.0 947.9,857.1 949.9,856.9 951.8,856.5 953.8,855.8 955.8,855.1 957.7,854.3 959.7,853.6 961.6,853.0 963.5,852.4 965.5,851.8 967.4,851.2 969.3,850.5 971.2,849.9 973.1,849.3 975.1,848.9 977.0,848.5 979.2,848.2 981.5,848.1 983.7,848.0 986.0,848.1 988.2,848.2 990.5,848.3 992.7,848.5 994.9,848.8 997.2,849.2 999.5,849.6 1001.7,850.1 1003.9,850.5 1006.0,850.9 1008.0,851.2 1010.3,851.4 1012.7,851.4 1015.0,851.4 1017.0,851.3 1018.7,851.2 1020.0,851.2" fill="none" stroke="#3F6ABF" stroke-width="7.8" stroke-linecap="round" stroke-linejoin="round" />
<polyline points="1020.0,850.5 1023.0,850.9 1026.0,851.3 1029.0,851.7 1032.0,850.8 1035.0,850.7 1038.1,850.8 1041.1,851.4 1044.1,851.6 1047.1,851.0 1050.1,851.0 1053.1,851.0 1056.1,851.0 1059.1,851.1 1062.1,850.5 1065.1,851.2 1068.1,852.0 1071.1,851.1 1074.2,851.6 1077.2,850.7 1080.2,851.5 1083.2,851.6 1086.2,851.5 1089.2,851.2 1092.2,851.2 1095.2,851.4 1098.2,851.8 1101.2,850.6 1104.2,850.6 1107.2,851.6 1110.3,851.9 1113.3,851.2 1116.3,851.1 1119.3,851.6 1122.3,850.7 1125.3,850.8 1128.3,850.7 1131.3,851.3 1134.3,850.9 1137.3,850.8 1140.3,851.5 1143.4,851.9 1146.4,850.9 1149.4,851.5 1152.4,851.1 1155.4,851.8 1158.4,851.3 1161.4,850.8 1164.4,850.7 1167.4,850.4 1170.4,851.2 1173.4,851.0 1176.4,850.7 1179.5,851.0 1182.5,850.9 1185.5,851.6 1188.5,850.6 1191.5,852.0 1194.5,851.2 1197.5,851.4 1200.5,851.1 1203.5,851.7 1206.5,851.7 1209.5,851.3 1212.5,851.2 1215.6,851.6 1218.6,851.8 1221.6,851.0 1224.6,851.6 1227.6,851.9 1230.6,851.1 1233.6,850.8 1236.6,850.8 1239.6,851.5 1242.6,851.5 1245.6,851.9 1248.6,851.8 1251.7,850.8 1254.7,850.7 1257.7,850.8 1260.7,850.7 1263.7,851.5 1266.7,851.8 1269.7,851.8 1272.7,850.8 1275.7,851.8 1278.7,850.9 1281.7,851.1 1284.8,851.6 1287.8,850.5 1290.8,850.5 1293.8,851.7 1296.8,850.9 1299.8,851.0 1302.8,851.3 1305.8,851.5 1308.8,850.4 1311.8,850.9 1314.8,851.1 1317.8,851.2 1320.9,850.7 1323.9,851.3 1326.9,851.9 1329.9,851.0 1332.9,851.3 1335.9,850.6 1338.9,850.8 1341.9,851.5 1344.9,850.6 1347.9,851.8 1350.9,851.9 1353.9,850.6 1357.0,851.9 1360.0,851.0 1363.0,851.6 1366.0,851.6 1369.0,850.9 1372.0,851.5" fill="none" stroke="#3F6ABF" stroke-width="6.5" stroke-linecap="butt" stroke-linejoin="round" />
<polyline points="183.0,844.8 186.0,845.1 189.0,844.0 192.0,845.0 195.1,845.4 198.1,844.8 201.1,844.6 204.1,843.7 207.1,844.5 210.1,844.2 213.1,844.9 216.2,844.9 219.2,844.6 222.2,843.9 225.2,844.8 228.2,844.8 231.2,843.9 234.2,845.3 237.3,844.8 240.3,843.7 243.3,845.4 246.3,843.8 249.3,844.2 252.3,844.9 255.3,844.7 258.4,844.6 261.4,844.8 264.4,844.4 267.4,844.1 270.4,843.9 273.4,843.6 276.4,844.9 279.5,845.0 282.5,844.6 285.5,845.0 288.5,844.2 291.5,844.0 294.5,844.3 297.5,845.2 300.6,843.6 303.6,844.5 306.6,844.0 309.6,845.0 312.6,844.2 315.6,844.2 318.6,844.3 321.7,844.6 324.7,845.0 327.7,844.2 330.7,845.2 333.7,843.7 336.7,844.0 339.7,843.7 342.8,843.7 345.8,845.1 348.8,845.0 351.8,843.9 354.8,843.9 357.8,844.3 360.8,845.0 363.9,845.1 366.9,845.0 369.9,844.7 372.9,843.8 375.9,844.3 378.9,843.9 381.9,844.6 385.0,844.6 388.0,843.9 391.0,844.0 394.0,845.1 397.0,843.6 400.0,845.1 403.0,845.3 406.1,845.4 409.1,844.3 412.1,844.6 415.1,844.7 418.1,844.8 421.1,845.5 424.1,844.9 427.2,844.1 430.2,845.2 433.2,844.5 436.2,844.7 439.2,845.0 442.2,843.5 445.2,845.0 448.3,844.8 451.3,844.5 454.3,844.5 457.3,844.4 460.3,843.9 463.3,844.6 466.3,843.6 469.4,844.5 472.4,844.8 475.4,844.4 478.4,844.6 481.4,845.4 484.4,845.3 487.4,843.8 490.5,845.1 493.5,844.7 496.5,843.6 499.5,844.2" fill="none" stroke="#3F6ABF" stroke-width="8.6" stroke-linecap="butt" stroke-linejoin="round" />
<polyline points="499.5,844.0 499.5,383.0" fill="none" stroke="#3F6ABF" stroke-width="5.5" stroke-linecap="round" stroke-linejoin="round" stroke-dasharray="10.2 11.2" />
<polyline points="499.5,385.0 499.5,152.0" fill="none" stroke="#3F6ABF" stroke-width="5.5" stroke-linecap="round" stroke-linejoin="round" />
<polyline points="499.8,215.0 499.8,213.6 499.8,211.7 499.9,209.4 500.1,207.1 500.5,205.0 501.1,203.2 501.8,201.4 502.6,199.7 503.7,197.9 505.0,196.0 506.1,194.5 507.3,192.9 508.6,191.3 510.0,189.6 511.5,188.0 513.1,186.4 514.7,185.0 516.3,183.7 518.0,182.5 519.7,181.3 521.5,180.2 523.4,179.2 525.5,178.1 527.7,177.0 529.4,176.2 531.2,175.4 533.1,174.6 535.0,173.8 537.0,173.0 539.1,172.2 541.1,171.4 543.1,170.7 545.1,170.1 547.0,169.5 549.0,168.9 551.0,168.4 553.0,168.0 555.0,167.6 556.9,167.3 558.9,167.0 560.9,166.7 562.9,166.3 565.0,166.0 567.0,165.7 569.2,165.3 571.5,165.0 573.8,164.6 576.1,164.3 578.3,164.0 580.4,163.7 582.2,163.4 583.8,163.2 585.0,163.0" fill="none" stroke="#3F6ABF" stroke-width="6.2" stroke-linecap="round" stroke-linejoin="round" />
<polyline points="547.0,169.0 548.2,168.5 549.8,169.0 551.6,169.3 553.7,167.8 555.9,168.4 558.2,167.6 560.5,166.2 562.8,167.0 565.0,166.2 566.9,166.5 568.8,165.8 570.7,165.5 572.6,164.5 574.6,165.1 576.5,165.0 578.6,164.6 580.6,163.5 582.8,163.8 585.0,163.0 586.9,162.0 588.9,161.6 590.9,161.4 593.0,161.3 595.1,160.9 597.2,161.2 599.3,161.3 601.5,160.7 603.6,160.2 605.8,160.3 607.9,159.4 610.0,159.4 612.1,159.7 614.2,158.8 616.3,158.2 618.4,159.3 620.5,158.7 622.6,157.9 624.7,157.7 626.8,157.7 628.8,157.7 630.9,156.8 633.0,156.3 635.0,156.5 637.2,157.4 639.3,156.1 641.5,156.5 643.6,155.9 645.7,155.8 647.8,155.7 649.9,156.0 652.0,155.5 654.2,155.2 656.4,155.3 658.6,155.4 660.6,156.0 662.5,155.2 664.6,155.1 666.7,155.9 668.7,155.8 670.8,156.4 672.9,155.3 675.0,156.0 677.1,156.0 679.1,155.4 681.1,157.2 683.1,155.9 685.0,155.8 687.1,156.5 688.9,156.0 690.7,156.9 692.3,156.4 693.9,156.1 695.6,156.1 697.4,157.4 699.4,156.8 701.7,158.1 704.3,157.9 707.3,159.3 708.8,158.4 710.3,158.6 711.9,159.0 713.6,160.4 715.4,160.4 717.2,160.3 719.0,160.3 720.9,161.8 722.9,162.7 724.9,162.5 726.9,161.9 729.0,162.5 731.0,163.1 733.1,163.7 735.3,164.0 737.4,164.6 739.5,166.2 741.6,167.1 743.7,166.4 745.8,168.3 747.9,167.9 750.0,169.0 752.0,169.8 754.0,170.3 756.0,169.2 758.0,170.1 760.0,171.2 762.0,172.3 764.0,171.3 766.1,172.2 768.2,173.8 770.3,173.0 772.4,174.0 774.5,174.5 776.6,175.7 778.7,176.7 780.8,175.9 782.8,177.4 784.9,178.0 786.9,178.7 788.9,178.7 790.8,179.9 792.8,179.4 794.6,180.0 796.5,180.2 798.2,181.7 799.9,181.6 801.6,181.6 803.2,181.9 804.7,183.3 807.5,183.8 810.1,184.7 812.5,184.8 814.8,185.6 816.9,185.6 818.9,187.1 820.8,186.4 822.6,187.7 824.3,188.7 825.8,189.0 827.3,188.4 828.7,189.1 830.0,190.6 833.4,191.6 835.6,193.1 837.0,194.0 838.0,193.9" fill="none" stroke="#3F6ABF" stroke-width="8.4" stroke-linecap="round" stroke-linejoin="round" />
<polyline points="830.0,190.0 831.5,190.6 833.8,191.6 836.1,192.7 838.0,194.0 839.3,195.5 840.4,197.2 841.3,199.0 842.0,201.0 842.6,203.3 843.0,205.9 843.3,208.3 843.5,210.0" fill="none" stroke="#3F6ABF" stroke-width="8" stroke-linecap="round" stroke-linejoin="round" />
<polyline points="843.5,210.0 845.0,235.0 848.5,332.0 856.0,620.0 860.3,832.0" fill="none" stroke="#3F6ABF" stroke-width="5.5" stroke-linecap="round" stroke-linejoin="round" stroke-dasharray="10.2 11.2" />
<polyline points="861.0,837.0 903.0,837.0" fill="none" stroke="#3F6ABF" stroke-width="8" stroke-linecap="butt" stroke-linejoin="round" />
<polyline points="902.0,837.0 903.6,835.8 905.1,832.2 906.7,826.4 908.3,818.4 909.8,808.5 911.4,797.0 913.0,784.2 914.5,770.5 916.1,756.1 917.7,741.5 919.3,727.1 920.8,713.4 922.4,700.6 924.0,689.1 925.5,679.2 927.1,671.2 928.7,665.4 930.2,661.8 931.8,660.6" fill="none" stroke="#3F6ABF" stroke-width="6.5" stroke-linecap="round" stroke-linejoin="round" stroke-dasharray="14 7.6" />
<polyline points="931.8,660.6 933.3,661.3 934.8,663.5 936.3,667.2 937.8,672.1 939.3,678.4 940.8,685.8 942.4,694.3 943.9,703.6 945.4,713.7 946.9,724.4 948.4,735.4 949.9,746.6 951.4,757.9 952.9,768.9 954.4,779.6 955.9,789.7 957.4,799.0 959.0,807.5 960.5,814.9 962.0,821.2 963.5,826.1 965.0,829.8 966.5,832.0 968.0,832.7" fill="none" stroke="#3F6ABF" stroke-width="6" stroke-linecap="round" stroke-linejoin="round" stroke-dasharray="5 8.2" />
<polyline points="968.0,832.7 969.6,832.1 971.1,830.4 972.7,827.5 974.2,823.6 975.8,818.7 977.3,812.9 978.9,806.3 980.5,799.0 982.0,791.2 983.6,783.0 985.1,774.6 986.7,766.1 988.2,757.7 989.8,749.5 991.3,741.7 992.9,734.4 994.5,727.8 996.0,722.0 997.6,717.1 999.1,713.2 1000.7,710.3 1002.2,708.6 1003.8,708.0 1005.4,708.5 1006.9,710.1 1008.5,712.7 1010.0,716.3 1011.6,720.8 1013.1,726.1 1014.7,732.1 1016.2,738.7 1017.8,745.7 1019.3,753.0 1020.9,760.5 1022.5,768.0 1024.0,775.3 1025.6,782.3 1027.1,788.9 1028.7,794.9 1030.2,800.2 1031.8,804.7 1033.3,808.3 1034.9,810.9 1036.4,812.5 1038.0,813.0 1039.5,812.7 1041.1,811.7 1042.6,810.0 1044.2,807.7 1045.7,804.8 1047.2,801.4 1048.8,797.5 1050.3,793.2 1051.9,788.6 1053.4,783.7 1055.0,778.7 1056.5,773.5 1058.0,768.3 1059.6,763.3 1061.1,758.4 1062.7,753.8 1064.2,749.5 1065.8,745.6 1067.3,742.2 1068.8,739.3 1070.4,737.0 1071.9,735.3 1073.5,734.3 1075.0,734.0 1076.5,734.3 1078.0,735.2 1079.6,736.7 1081.1,738.7 1082.6,741.2 1084.1,744.3 1085.7,747.7 1087.2,751.4 1088.7,755.5 1090.2,759.7 1091.7,764.1 1093.3,768.5 1094.8,772.9 1096.3,777.1 1097.8,781.2 1099.3,784.9 1100.9,788.3 1102.4,791.4 1103.9,793.9 1105.4,795.9 1107.0,797.4 1108.5,798.3 1110.0,798.6 1111.6,798.4 1113.1,797.6 1114.7,796.5 1116.2,794.8 1117.8,792.8 1119.3,790.4 1120.9,787.7 1122.4,784.7 1124.0,781.4 1125.5,778.0 1127.1,774.6 1128.6,771.0 1130.2,767.6 1131.7,764.2 1133.3,760.9 1134.8,757.9 1136.4,755.2 1137.9,752.8 1139.5,750.8 1141.0,749.1 1142.6,748.0 1144.1,747.2 1145.7,747.0 1147.2,747.2 1148.8,747.8 1150.3,748.8 1151.8,750.2 1153.4,751.9 1154.9,753.9 1156.4,756.2 1158.0,758.7 1159.5,761.5 1161.0,764.3 1162.6,767.3 1164.1,770.2 1165.7,773.2 1167.2,776.0 1168.7,778.8 1170.3,781.3 1171.8,783.6 1173.3,785.6 1174.9,787.3 1176.4,788.7 1177.9,789.7 1179.5,790.3 1181.0,790.5 1182.5,790.4 1184.0,789.9 1185.5,789.2 1187.0,788.2 1188.5,786.9 1190.0,785.4 1191.5,783.8 1193.0,781.9 1194.5,779.9 1196.0,777.7 1197.5,775.5 1199.0,773.2 1200.5,771.0 1202.0,768.8 1203.5,766.6 1205.0,764.6 1206.5,762.7 1208.0,761.1 1209.5,759.6 1211.0,758.3 1212.5,757.3 1214.0,756.6 1215.5,756.1 1217.0,756.0 1218.5,756.1 1220.1,756.4 1221.6,757.0 1223.2,757.7 1224.7,758.7 1226.2,759.8 1227.8,761.1 1229.3,762.5 1230.9,764.0 1232.4,765.6 1234.0,767.3 1235.5,769.0 1237.0,770.7 1238.6,772.4 1240.1,774.0 1241.7,775.5 1243.2,776.9 1244.8,778.2 1246.3,779.3 1247.8,780.3 1249.4,781.0 1250.9,781.6 1252.5,781.9 1254.0,782.0 1255.5,781.9 1257.1,781.6 1258.6,781.1 1260.2,780.5 1261.7,779.7 1263.3,778.7 1264.8,777.6 1266.4,776.4 1267.9,775.2 1269.5,773.9 1271.0,772.5 1272.5,771.1 1274.1,769.8 1275.6,768.6 1277.2,767.4 1278.7,766.3 1280.3,765.3 1281.8,764.5 1283.4,763.9 1284.9,763.4 1286.5,763.1 1288.0,763.0 1289.5,763.1 1291.1,763.3 1292.6,763.7 1294.2,764.2 1295.7,764.8 1297.3,765.5 1298.8,766.4 1300.4,767.3 1301.9,768.3 1303.5,769.4 1305.0,770.5 1306.6,771.5 1308.1,772.6 1309.7,773.7 1311.2,774.7 1312.8,775.6 1314.3,776.5 1315.9,777.2 1317.4,777.8 1319.0,778.3 1320.5,778.7 1322.1,778.9 1323.6,779.0 1325.1,778.9 1326.7,778.7 1328.2,778.4 1329.8,778.0 1331.3,777.4 1332.9,776.8 1334.5,776.0 1336.0,775.2 1337.5,774.3 1339.1,773.4 1340.7,772.5 1342.2,771.6 1343.8,770.7 1345.3,769.8 1346.8,769.0 1348.4,768.2 1350.0,767.6 1351.5,767.0 1353.0,766.6 1354.6,766.3 1356.2,766.1 1357.7,766.0 1359.3,766.1 1360.8,766.4 1362.4,766.9 1364.0,767.5 1365.6,768.1 1367.1,768.9 1368.7,769.5 1370.3,770.1 1371.9,770.6 1373.4,770.9 1375.0,771.0" fill="none" stroke="#3F6ABF" stroke-width="6.5" stroke-linecap="round" stroke-linejoin="round" />
<polyline points="183.0,404.0 185.5,403.3 188.0,402.2 190.5,401.9 192.9,400.9 195.4,401.1 197.9,401.7 200.4,399.8 202.9,400.2 205.4,399.0 207.8,398.6 210.3,399.2 212.8,398.1 215.3,397.3 217.8,397.1 220.3,397.6 222.7,397.1 225.2,395.7 227.7,395.7 230.2,396.6 232.7,394.9 235.2,395.1 237.6,394.4 240.1,394.7 242.6,394.0 245.1,393.9 247.6,393.0 250.1,392.0 252.5,391.6 255.0,391.0 257.5,392.0 260.0,390.3 262.5,389.9 265.1,391.3 267.6,389.6 270.1,390.6 272.7,388.8 275.2,389.2 277.8,388.5 280.3,389.3 282.8,388.6 285.4,388.4 287.9,388.3 290.4,388.2 293.0,387.0 295.5,387.2 298.0,386.6 300.6,385.7 303.1,386.7 305.7,386.0 308.2,386.1 310.7,384.7 313.3,385.0 315.8,384.6 318.3,384.8 320.9,383.3 323.4,383.5 325.9,383.5 328.5,382.5 331.0,383.0 333.6,383.1 336.1,382.2 338.6,382.3 341.2,382.0 343.7,381.0" fill="none" stroke="#4BAE6C" stroke-width="7.2" stroke-linecap="round" stroke-linejoin="round" />
<polyline points="344.0,378.0 346.0,400.0" fill="none" stroke="#4BAE6C" stroke-width="9" stroke-linecap="round" stroke-linejoin="round" />
<polyline points="345.0,384.0 351.8,400.0 397.3,468.0 446.0,539.7 494.7,607.9 560.0,698.0 664.0,847.0" fill="none" stroke="#4BAE6C" stroke-width="7" stroke-linecap="round" stroke-linejoin="round" />
<polyline points="664.0,847.0 664.6,848.2 665.4,849.7 666.3,851.6 667.3,853.6 668.4,855.8 669.6,858.0 670.8,860.2 671.9,862.2 673.0,864.0 674.2,865.9 675.5,868.0 676.9,870.0 678.2,871.9 679.5,873.7 680.7,875.2 681.9,876.3 682.9,877.0 685.0,876.6 686.5,874.0 688.0,871.0 688.9,869.1 689.6,866.8 690.4,864.5 691.4,862.3 693.0,860.7 694.5,860.0 696.1,859.5 698.0,859.3 700.0,859.1 702.2,859.0 704.5,858.8 707.0,858.4 708.7,858.0 710.6,857.6 712.5,857.2 714.6,856.7 716.7,856.2 718.8,855.7 721.0,855.2 723.0,854.7 725.0,854.3 726.9,853.9 728.7,853.5 731.3,853.0 733.7,852.5 735.9,852.0 738.1,851.6 740.1,851.3 742.1,851.1 744.0,851.0 746.3,851.0 748.3,851.2 750.2,851.6 752.3,852.2 755.0,853.0 756.7,853.6 758.5,854.3 760.5,855.1 762.6,856.0 764.7,857.0 766.9,857.9 769.0,858.7 771.1,859.5 773.1,860.1 775.0,860.5 777.5,860.8 779.8,860.8 782.1,860.7 784.3,860.4 786.5,860.0 788.6,859.5 790.8,859.0 792.8,858.5 794.8,857.9 796.8,857.2 798.8,856.4 800.7,855.6 802.6,854.9 804.4,854.1 806.0,853.5 808.3,852.5 810.3,851.4 812.1,850.5 813.9,849.8 815.7,849.5 817.8,849.8 819.7,850.8 821.9,851.9 825.0,853.0 826.6,853.4 828.3,853.9 830.1,854.3 832.1,854.8 834.1,855.3 836.2,855.8 838.4,856.2 840.6,856.5 842.8,856.8 845.0,856.9 847.0,856.9 849.0,856.8 851.1,856.7 853.3,856.4 855.4,856.2 857.6,855.9 859.8,855.5 861.9,855.2 864.1,854.9 866.3,854.7 868.4,854.5 870.5,854.3 872.6,854.2 874.8,854.0 876.9,853.9 879.0,853.8 881.1,853.6 883.2,853.5 885.3,853.5 887.5,853.4 889.6,853.5 891.7,853.5 893.8,853.6 895.8,853.8 897.8,854.0 899.8,854.2 901.9,854.5 903.9,854.8 906.0,855.1 908.1,855.3 910.3,855.6 912.6,855.8 915.0,856.0 916.8,856.1 918.7,856.2 920.7,856.3 922.7,856.4 924.8,856.5 926.8,856.5 929.0,856.6 931.1,856.6 933.2,856.7 935.4,856.8 937.5,856.8 939.7,856.8 941.8,856.9 943.9,856.9 946.0,857.0 948.1,857.1 950.2,857.1 952.3,857.2 954.5,857.2 956.6,857.2 958.8,857.3 960.9,857.3 963.1,857.4 965.2,857.4 967.3,857.4 969.3,857.5 971.3,857.5 973.3,857.5 975.2,857.6 977.0,857.6 979.5,857.6 982.0,857.7 984.5,857.7 986.9,857.7 989.3,857.7 991.6,857.7 993.7,857.8 995.6,857.8 997.3,857.8 998.8,857.8 1000.0,857.8" fill="none" stroke="#4BAE6C" stroke-width="7.6" stroke-linecap="round" stroke-linejoin="round" />
<polyline points="1000.0,857.6 1003.0,858.6 1006.0,857.5 1009.0,857.7 1012.0,857.1 1015.0,857.3 1018.0,857.3 1021.0,858.5 1024.0,858.2 1027.0,858.4 1030.0,858.6 1033.0,858.0 1036.0,858.5 1039.0,857.9 1042.0,857.7 1045.0,858.5 1048.0,858.4 1051.0,858.5 1054.0,857.8 1057.0,858.2 1060.0,857.7 1063.0,858.6 1066.0,858.5 1069.0,857.5 1072.0,858.5 1075.0,857.3 1078.0,857.2 1081.0,858.2 1084.0,857.5 1087.0,857.8 1090.0,858.0 1093.0,857.1 1096.0,858.2 1099.0,857.4 1102.0,857.7 1105.0,857.6 1108.0,858.2 1111.0,858.2 1114.0,857.5 1117.0,857.2 1120.0,857.5 1123.0,857.7 1126.0,857.1 1129.0,857.2 1132.0,858.2 1135.0,858.1 1138.0,858.6 1141.0,858.6 1144.0,858.4 1147.0,857.6 1150.0,857.3 1153.0,857.5 1156.0,857.7 1159.0,857.8 1162.0,857.9 1165.0,857.6 1168.0,858.4 1171.0,857.5 1174.0,857.7 1177.0,858.4 1180.0,858.3 1183.0,857.5 1186.0,857.4 1189.0,858.3 1192.0,857.0 1195.0,857.2 1198.0,857.8 1201.0,857.9 1204.0,857.3 1207.0,857.1 1210.0,857.3 1213.0,858.2 1216.0,857.7 1219.0,858.6 1222.0,858.3 1225.0,858.6 1228.0,857.1 1231.0,857.3 1234.0,857.0 1237.0,857.7 1240.0,857.5 1243.0,857.1 1246.0,857.9 1249.0,857.2 1252.0,857.5 1255.0,857.4 1258.0,858.3 1261.0,857.7 1264.0,857.4 1267.0,857.1 1270.0,857.7 1273.0,858.0 1276.0,858.1 1279.0,858.5 1282.0,858.3 1285.0,857.4 1288.0,857.2 1291.0,858.2 1294.0,858.3 1297.0,857.8 1300.0,858.3 1303.0,857.9 1306.0,857.4 1309.0,857.3 1312.0,857.0 1315.0,858.0 1318.0,858.4 1321.0,858.4 1324.0,857.7 1327.0,858.1 1330.0,858.5 1333.0,858.3 1336.0,858.0 1339.0,857.7 1342.0,857.8 1345.0,857.3 1348.0,857.3 1351.0,858.1 1354.0,858.6 1357.0,857.9 1360.0,857.7 1363.0,857.6 1366.0,857.7 1369.0,858.3 1372.0,857.7" fill="none" stroke="#4BAE6C" stroke-width="8.2" stroke-linecap="butt" stroke-linejoin="round" />
<polyline points="183.0,844.8 186.0,843.4 189.0,843.7 192.1,844.0 195.1,843.8 198.1,844.6 201.1,844.6 204.1,844.8 207.2,844.2 210.2,843.2 213.2,844.1 216.2,844.1 219.2,844.0 222.2,843.6 225.3,844.4 228.3,844.7 231.3,843.3 234.3,844.3 237.3,843.8 240.4,844.0 243.4,844.7 246.4,844.8 249.4,844.3 252.4,843.5 255.5,844.8 258.5,843.4 261.5,843.8 264.5,844.6 267.5,843.7 270.5,843.6 273.6,844.8 276.6,844.8 279.6,843.7 282.6,843.8 285.6,843.6 288.7,843.3 291.7,843.6 294.7,844.9 297.7,843.2 300.7,843.5 303.8,843.5 306.8,843.2 309.8,844.0 312.8,844.4 315.8,844.6 318.8,844.2 321.9,844.6 324.9,843.1 327.9,843.6 330.9,844.8 333.9,843.2 337.0,843.6 340.0,844.0 343.0,843.6" fill="none" stroke="#4BAE6C" stroke-width="8" stroke-linecap="butt" stroke-linejoin="round" />
<polyline points="342.9,843.0 342.9,395.0" fill="none" stroke="#4BAE6C" stroke-width="5.3" stroke-linecap="round" stroke-linejoin="round" stroke-dasharray="10.2 11.2" />
<polyline points="343.5,396.0 343.5,210.0" fill="none" stroke="#4BAE6C" stroke-width="6" stroke-linecap="round" stroke-linejoin="round" />
<polyline points="343.5,220.0 343.6,218.7 343.6,216.9 343.7,214.8 343.8,212.5 343.9,210.1 344.1,207.8 344.3,205.7 344.5,204.0 345.1,201.4 345.8,199.3 346.6,197.6 347.5,196.0 348.6,194.2 349.8,192.6 352.0,190.5 353.2,189.4 354.7,188.0 356.3,186.6 358.0,185.1 359.8,183.5 361.6,182.1 363.3,180.7 365.0,179.5 366.8,178.3 368.6,177.3 370.4,176.3 372.2,175.5 374.0,174.7 375.9,173.8 377.8,173.0 379.9,172.1 382.2,171.2 384.5,170.3 386.8,169.4 388.9,168.6 390.7,168.0 392.0,167.5" fill="none" stroke="#4BAE6C" stroke-width="6.4" stroke-linecap="round" stroke-linejoin="round" />
<polyline points="377.8,173.1 379.1,171.7 380.8,171.3 382.9,171.8 385.1,169.4 387.5,169.9 389.8,167.7 392.0,168.4 393.9,167.2 395.5,166.5 397.1,165.0 398.9,164.3 400.9,165.0 403.6,163.4 407.0,162.7 408.5,163.6 410.0,163.4 411.7,161.7 413.5,163.0 415.3,161.9 417.2,161.3 419.2,160.5 421.2,160.7 423.3,161.5 425.5,159.9 427.7,159.3 429.9,159.0 432.1,158.7 434.4,158.8 436.7,159.5 439.0,157.7 441.4,157.7 443.7,158.8 446.0,158.7 447.8,158.5 449.7,157.0 451.6,157.1 453.6,158.0 455.5,157.0 457.5,157.3 459.5,156.4 461.5,155.8 463.6,156.2 465.6,156.8 467.7,156.8 469.8,156.3 471.9,156.0 473.9,156.1 476.0,155.8 478.1,155.9 480.2,156.4 482.3,155.2 484.4,155.8 486.5,156.4 488.6,156.2 490.6,155.0 492.7,156.4 494.7,156.2 496.7,155.0 498.8,155.2 500.8,155.2 502.8,154.9 504.9,156.7 507.0,155.7 509.0,156.6 511.1,155.3 513.1,155.3 515.2,156.9 517.2,156.9 519.3,157.4 521.3,156.9 523.3,156.8 525.4,157.4 527.4,156.3 529.4,157.3 531.4,157.2 533.4,156.9 535.3,157.9 537.3,157.5 539.2,158.0 541.1,158.0 543.0,158.1 545.1,158.4 547.2,159.0 549.3,159.9 551.3,160.1 553.4,160.2 555.4,160.3 557.4,159.6 559.3,161.1 561.3,160.1 563.2,160.1 565.2,161.0 567.1,161.8 569.1,161.3 571.0,162.2 573.0,161.9 574.9,163.4 576.9,162.9 578.9,163.3 580.9,163.8 582.9,164.8 585.0,165.4 586.9,164.9 588.9,165.2 590.9,166.0 592.9,165.4 595.0,166.6 597.0,167.8 599.1,168.2 601.2,167.4 603.3,169.4 605.4,169.1 607.5,170.7 609.6,170.2 611.7,170.4 613.7,171.6 615.7,172.7 617.7,172.5 619.6,173.8 621.5,174.0 623.3,173.9 625.1,174.3 626.8,175.1 628.4,175.4 630.0,175.8 632.6,177.0 635.1,178.1 637.5,178.3 639.7,178.2 641.8,179.0 643.8,179.9 645.7,181.0 647.5,180.7 649.1,181.2 650.7,182.2 652.2,182.6 653.7,182.7 655.0,184.1 658.6,186.1 661.1,186.6 662.8,187.8 664.0,188.6" fill="none" stroke="#4BAE6C" stroke-width="8" stroke-linecap="round" stroke-linejoin="round" />
<polyline points="655.0,184.0 656.7,184.7 659.2,185.6 661.8,186.8 664.0,188.0 666.1,189.7 667.7,191.7 669.0,194.0 669.8,196.2 670.3,198.9 670.7,201.3 671.0,203.0" fill="none" stroke="#4BAE6C" stroke-width="7.5" stroke-linecap="round" stroke-linejoin="round" />
<polyline points="671.0,203.0 672.5,215.0 674.8,267.0 677.0,332.0 685.0,640.0 690.0,832.0" fill="none" stroke="#4BAE6C" stroke-width="5.3" stroke-linecap="round" stroke-linejoin="round" stroke-dasharray="10.2 11.2" />
<polyline points="690.0,834.8 732.0,834.8" fill="none" stroke="#4BAE6C" stroke-width="7" stroke-linecap="butt" stroke-linejoin="round" />
<polyline points="731.0,835.0 732.6,833.8 734.1,830.3 735.7,824.6 737.2,816.8 738.8,807.1 740.3,795.9 741.9,783.3 743.5,769.8 745.0,755.7 746.6,741.5 748.1,727.4 749.7,713.9 751.3,701.3 752.8,690.1 754.4,680.4 755.9,672.6 757.5,666.9 759.0,663.4 760.6,662.2" fill="none" stroke="#4BAE6C" stroke-width="6" stroke-linecap="round" stroke-linejoin="round" stroke-dasharray="9 9" />
<polyline points="760.6,662.2 762.1,662.9 763.6,665.1 765.1,668.7 766.7,673.6 768.2,679.8 769.7,687.2 771.2,695.6 772.7,704.8 774.2,714.8 775.8,725.4 777.3,736.3 778.8,747.5 780.3,758.6 781.8,769.5 783.4,780.1 784.9,790.1 786.4,799.3 787.9,807.7 789.4,815.1 790.9,821.3 792.5,826.2 794.0,829.8 795.5,832.0 797.0,832.7" fill="none" stroke="#4BAE6C" stroke-width="6.5" stroke-linecap="round" stroke-linejoin="round" stroke-dasharray="14 7.2" />
<polyline points="797.0,832.7 798.6,832.1 800.1,830.4 801.7,827.6 803.2,823.7 804.8,818.9 806.3,813.1 807.9,806.6 809.4,799.4 811.0,791.7 812.5,783.6 814.1,775.2 815.6,766.8 817.2,758.4 818.7,750.3 820.3,742.6 821.8,735.4 823.4,728.9 824.9,723.1 826.5,718.3 828.0,714.4 829.6,711.6 831.1,709.9 832.7,709.3 834.2,709.8 835.8,711.4 837.4,714.0 838.9,717.5 840.5,722.0 842.0,727.2 843.6,733.1 845.1,739.6 846.6,746.5 848.2,753.8 849.8,761.1 851.3,768.5 852.9,775.8 854.4,782.7 855.9,789.2 857.5,795.1 859.0,800.3 860.6,804.8 862.1,808.3 863.7,810.9 865.2,812.5 866.8,813.0 868.3,812.7 869.9,811.6 871.4,810.0 873.0,807.7 874.5,804.8 876.1,801.4 877.6,797.5 879.2,793.1 880.8,788.5 882.3,783.6 883.9,778.5 885.4,773.3 886.9,768.1 888.5,763.0 890.0,758.1 891.6,753.5 893.1,749.1 894.7,745.2 896.2,741.8 897.8,738.9 899.4,736.6 900.9,735.0 902.5,733.9 904.0,733.6 905.5,733.9 907.1,734.9 908.6,736.5 910.2,738.8 911.7,741.5 913.3,744.8 914.8,748.5 916.4,752.6 917.9,756.9 919.5,761.5 921.0,766.1 922.5,770.7 924.1,775.3 925.6,779.6 927.2,783.7 928.7,787.4 930.3,790.7 931.8,793.4 933.4,795.7 934.9,797.3 936.5,798.3 938.0,798.6 939.5,798.4 941.0,797.7 942.6,796.7 944.1,795.2 945.6,793.4 947.1,791.2 948.7,788.7 950.2,786.0 951.7,783.0 953.2,779.8 954.8,776.6 956.3,773.3 957.8,770.0 959.4,766.8 960.9,763.6 962.4,760.6 963.9,757.9 965.5,755.4 967.0,753.2 968.5,751.4 970.0,749.9 971.6,748.9 973.1,748.2 974.6,748.0 976.1,748.2 977.7,748.8 979.2,749.8 980.8,751.2 982.4,752.9 983.9,754.9 985.5,757.2 987.0,759.7 988.6,762.4 990.1,765.2 991.7,768.0 993.2,770.8 994.8,773.6 996.3,776.3 997.9,778.8 999.4,781.1 1001.0,783.1 1002.5,784.8 1004.1,786.2 1005.6,787.2 1007.2,787.8 1008.7,788.0 1010.2,787.9 1011.7,787.5 1013.2,786.9 1014.8,786.0 1016.3,784.9 1017.8,783.6 1019.3,782.1 1020.8,780.5 1022.3,778.7 1023.8,776.9 1025.3,775.0 1026.8,773.0 1028.4,771.0 1029.9,769.1 1031.4,767.3 1032.9,765.5 1034.4,763.9 1035.9,762.4 1037.4,761.1 1039.0,760.0 1040.5,759.1 1042.0,758.5 1043.5,758.1 1045.0,758.0 1046.5,758.1 1048.0,758.4 1049.6,759.0 1051.1,759.7 1052.6,760.7 1054.1,761.8 1055.7,763.1 1057.2,764.5 1058.7,766.0 1060.2,767.6 1061.7,769.2 1063.3,770.8 1064.8,772.4 1066.3,774.0 1067.8,775.5 1069.3,776.9 1070.9,778.2 1072.4,779.3 1073.9,780.3 1075.4,781.0 1077.0,781.6 1078.5,781.9 1080.0,782.0 1081.6,781.9 1083.1,781.6 1084.7,781.2 1086.2,780.6 1087.8,779.9 1089.3,779.0 1090.9,778.0 1092.5,776.9 1094.0,775.7 1095.6,774.4 1097.1,773.1 1098.7,771.9 1100.2,770.6 1101.8,769.3 1103.3,768.1 1104.9,767.0 1106.5,766.0 1108.0,765.1 1109.6,764.4 1111.1,763.8 1112.7,763.4 1114.2,763.1 1115.8,763.0 1117.4,763.1 1118.9,763.3 1120.5,763.7 1122.0,764.2 1123.6,764.8 1125.1,765.5 1126.7,766.4 1128.3,767.3 1129.8,768.3 1131.4,769.4 1132.9,770.5 1134.5,771.5 1136.0,772.6 1137.6,773.7 1139.1,774.7 1140.7,775.6 1142.3,776.5 1143.8,777.2 1145.4,777.8 1146.9,778.3 1148.5,778.7 1150.0,778.9 1151.6,779.0 1153.1,778.9 1154.7,778.7 1156.2,778.4 1157.8,777.9 1159.3,777.3 1160.9,776.6 1162.4,775.8 1163.9,774.9 1165.5,773.9 1167.0,773.0 1168.6,772.0 1170.1,771.1 1171.7,770.1 1173.2,769.2 1174.7,768.4 1176.3,767.7 1177.8,767.1 1179.4,766.6 1180.9,766.3 1182.5,766.1 1184.0,766.0 1185.5,766.1 1187.1,766.2 1188.7,766.5 1190.2,767.0 1191.8,767.5 1193.3,768.1 1194.8,768.7 1196.4,769.5 1198.0,770.2 1199.5,771.0 1201.0,771.8 1202.6,772.5 1204.2,773.3 1205.7,773.9 1207.2,774.5 1208.8,775.0 1210.3,775.5 1211.9,775.8 1213.5,775.9 1215.0,776.0 1216.5,776.0 1218.0,775.9 1219.6,775.8 1221.1,775.6 1222.6,775.4 1224.1,775.2 1225.7,774.9 1227.2,774.7 1228.7,774.3 1230.2,774.0 1231.7,773.7 1233.3,773.3 1234.8,773.0 1236.3,772.7 1237.8,772.3 1239.3,772.1 1240.9,771.8 1242.4,771.6 1243.9,771.4 1245.4,771.2 1247.0,771.1 1248.5,771.0 1250.0,771.0 1251.5,771.0 1253.1,771.1 1254.6,771.1 1256.2,771.2 1257.7,771.4 1259.2,771.5 1260.8,771.7 1262.3,771.9 1263.8,772.1 1265.4,772.3 1266.9,772.5 1268.5,772.8 1270.0,773.0 1271.5,773.2 1273.1,773.5 1274.6,773.7 1276.2,773.9 1277.7,774.1 1279.2,774.3 1280.8,774.5 1282.3,774.6 1283.8,774.8 1285.4,774.9 1286.9,774.9 1288.5,775.0 1290.0,775.0 1291.5,775.0 1293.1,775.0 1294.6,774.9 1296.2,774.8 1297.7,774.7 1299.2,774.6 1300.8,774.5 1302.3,774.4 1303.8,774.2 1305.4,774.0 1306.9,773.9 1308.5,773.7 1310.0,773.5 1311.5,773.3 1313.1,773.1 1314.6,773.0 1316.2,772.8 1317.7,772.6 1319.2,772.5 1320.8,772.4 1322.3,772.3 1323.8,772.2 1325.4,772.1 1326.9,772.0 1328.5,772.0 1330.0,772.0 1331.5,772.0 1333.0,772.0 1334.5,772.0 1336.0,772.0 1337.5,772.1 1339.0,772.1 1340.5,772.1 1342.0,772.2 1343.5,772.2 1345.0,772.2 1346.5,772.3 1348.0,772.3 1349.5,772.4 1351.0,772.4 1352.5,772.5 1354.0,772.6 1355.5,772.6 1357.0,772.7 1358.5,772.7 1360.0,772.8 1361.5,772.8 1363.0,772.8 1364.5,772.9 1366.0,772.9 1367.5,772.9 1369.0,773.0 1370.5,773.0 1372.0,773.0 1373.5,773.0 1375.0,773.0" fill="none" stroke="#4BAE6C" stroke-width="7" stroke-linecap="round" stroke-linejoin="round" />
</g>
<line x1="1136.2" y1="68.9" x2="1191.2" y2="68.9" stroke="#E5304A" stroke-width="6.2" stroke-linecap="round"/>
<text x="1206.5" y="79.0" font-size="31"><tspan font-style="italic">V</tspan><tspan font-size="21" dy="8" dx="1">G</tspan><tspan dy="-8" dx="-3.2"> = 15 V</tspan></text>
<line x1="1136.2" y1="113.9" x2="1191.2" y2="113.9" stroke="#3F6ABF" stroke-width="6.2" stroke-linecap="round"/>
<text x="1206.5" y="124.0" font-size="31"><tspan font-style="italic">V</tspan><tspan font-size="21" dy="8" dx="1">G</tspan><tspan dy="-8" dx="-3.2"> = 18 V</tspan></text>
<line x1="1136.2" y1="158.5" x2="1191.2" y2="158.5" stroke="#4BAE6C" stroke-width="6.2" stroke-linecap="round"/>
<text x="1206.5" y="168.6" font-size="31"><tspan font-style="italic">V</tspan><tspan font-size="21" dy="8" dx="1">G</tspan><tspan dy="-8" dx="-3.2"> = 20 V</tspan></text>
<ellipse cx="280.75" cy="386.15" rx="46.5" ry="51.1" pathLength="900" fill="none" stroke="#222C55" stroke-width="9.5" stroke-dasharray="78 22" stroke-dashoffset="53"/>
<ellipse cx="588.6" cy="172" rx="57.6" ry="63" pathLength="1100" fill="none" stroke="#222C55" stroke-width="9.5" stroke-dasharray="78 22" stroke-dashoffset="55.5"/>
<text x="275" y="391.8" font-size="10.5" style="fill:#fff;font-weight:normal">11</text>
<text x="580" y="173.3" font-size="12" style="fill:#fff;font-weight:normal">11</text>
<line x1="291.8" y1="332.5" x2="218.0" y2="332.5" stroke="#111111" stroke-width="8.6" stroke-linecap="butt"/>
<polygon points="198.3,332.4 223.8,319.4 223.8,345.4" fill="#111111"/>
<line x1="590.5" y1="108.2" x2="712.0" y2="108.2" stroke="#111111" stroke-width="9.6" stroke-linecap="butt"/>
<polygon points="733.5,108.2 707,94.5 707,122" fill="#111111"/>
<text x="218" y="298.7" font-size="82"><tspan font-style="italic">I</tspan><tspan font-size="54.5" dy="19.3" dx="-0.5">CE</tspan></text>
<text x="741" y="115.3" font-size="81"><tspan font-style="italic">V</tspan><tspan font-size="54.5" dy="19.5" dx="-5.5">CE</tspan></text>
<text x="-2.0" y="87.2" font-size="96" text-anchor="start" >(a)</text>
<text x="1581.0" y="86.8" font-size="96" text-anchor="start" >(b)</text>
<text transform="translate(67.5,511) rotate(-90)" font-size="63.5" text-anchor="middle">Collector Current (A)</text>
<text transform="translate(1574.5,502.5) rotate(-90)" font-size="64" text-anchor="middle">Collector Voltage (V)</text>
<text x="775.7" y="1114.5" font-size="63" text-anchor="middle">Time (<tspan font-style="italic">μ</tspan>s)</text>
<text transform="translate(1649,503.5) rotate(-90)" font-size="63" text-anchor="middle"><tspan font-style="italic">I</tspan><tspan font-size="45" dy="19">AS</tspan><tspan dy="-19"> (A)</tspan></text>
<text x="2391" y="1113.4" font-size="63" text-anchor="middle"><tspan font-style="italic">V</tspan><tspan font-size="45" dy="17.6" dx="-4">G</tspan><tspan dy="-17.6"> (V)</tspan></text>
<text transform="translate(3133,496.7) rotate(-90)" font-size="63" text-anchor="middle"><tspan font-style="italic">t</tspan><tspan font-size="45" dy="18">AS</tspan><tspan dy="-18"> (<tspan font-style="italic">μ</tspan>s) <tspan font-style="italic">&amp;</tspan> </tspan><tspan font-style="italic">E</tspan><tspan font-size="45" dy="18">AS</tspan><tspan dy="-18"> (mJ)</tspan></text>
<polyline points="1960.6,474.8 2473.8,672.4 2816.0,754.8" fill="none" stroke="#E5304A" stroke-width="6.0" stroke-linejoin="round"/>
<rect x="1946.8" y="460.7" width="27.6" height="28.2" fill="#E5304A"/>
<rect x="2460.0" y="658.3" width="27.6" height="28.2" fill="#E5304A"/>
<rect x="2802.2" y="740.7" width="27.6" height="28.2" fill="#E5304A"/>
<polyline points="1961.0,757.0 2474.0,804.3 2816.2,836.3" fill="none" stroke="#3F6ABF" stroke-width="6.0" stroke-linejoin="round"/>
<polygon points="1961.0,736.7 1943.0,766.8 1979.0,766.8" fill="#3F6ABF" stroke="#3F6ABF" stroke-width="1.5" stroke-linejoin="round"/>
<polygon points="2474.0,784.0 2456.0,814.1 2492.0,814.1" fill="#3F6ABF" stroke="#3F6ABF" stroke-width="1.5" stroke-linejoin="round"/>
<polygon points="2816.2,816.0 2798.2,846.1 2834.2,846.1" fill="#3F6ABF" stroke="#3F6ABF" stroke-width="1.5" stroke-linejoin="round"/>
<polyline points="1960.6,140.5 2473.8,421.0 2816.0,525.3" fill="none" stroke="#4BAE6C" stroke-width="6.0" stroke-linejoin="round"/>
<circle cx="1960.6" cy="140.5" r="15.7" fill="#4BAE6C"/>
<circle cx="2473.8" cy="421.0" r="15.7" fill="#4BAE6C"/>
<circle cx="2816.0" cy="525.3" r="15.7" fill="#4BAE6C"/>
<line x1="2679.9" y1="98.0" x2="2777.3" y2="98.0" stroke="#E5304A" stroke-width="6.1" stroke-linecap="round"/>
<line x1="2679.9" y1="180.0" x2="2777.3" y2="180.0" stroke="#3F6ABF" stroke-width="6.1" stroke-linecap="round"/>
<line x1="2679.9" y1="262.0" x2="2777.3" y2="262.0" stroke="#4BAE6C" stroke-width="6.1" stroke-linecap="round"/>
<rect x="2714.8" y="84.1" width="27.6" height="28.2" fill="#E5304A"/>
<polygon points="2728.3,159.7 2710.3,189.8 2746.3,189.8" fill="#3F6ABF" stroke="#3F6ABF" stroke-width="1.5" stroke-linejoin="round"/>
<circle cx="2728.3" cy="262.1" r="15.7" fill="#4BAE6C"/>
<text x="2804" y="116.8" font-size="55"><tspan font-style="italic">I</tspan><tspan font-size="39" dy="15.2" dx="0">AS</tspan></text>
<text x="2806" y="198.2" font-size="55"><tspan font-style="italic">t</tspan><tspan font-size="39" dy="15.2" dx="1">AS</tspan></text>
<text x="2805" y="280.4" font-size="55"><tspan font-style="italic">E</tspan><tspan font-size="39" dy="15.2" dx="1">AS</tspan></text>
</svg>
</body></html>
